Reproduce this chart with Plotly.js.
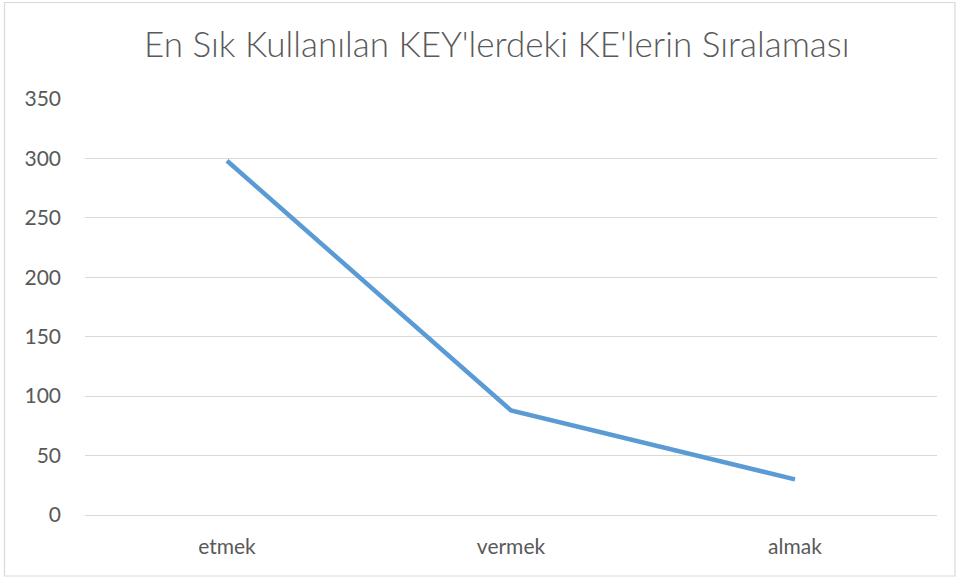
<!DOCTYPE html>
<html>
<head>
<meta charset="utf-8">
<script src="https://cdn.plot.ly/plotly-3.0.1.min.js"></script>
<style>
html,body{margin:0;padding:0;background:#fff;}
#chart{width:959px;height:579px;}
</style>
</head>
<body>
<div id="chart"></div>
<script>
const categories = ["etmek", "vermek", "almak"];
const values = [298, 88, 30];
const yTicks = [0, 50, 100, 150, 200, 250, 300, 350];
const chartTitle = "En Sık Kullanılan KEY'lerdeki KE'lerin Sıralaması";

const trace = {
  x: categories,
  y: values,
  type: 'scatter',
  mode: 'lines',
  line: {color: '#5B9BD5', width: 4.5, shape: 'linear'},
  hoverinfo: 'x+y'
};

const layout = {
  width: 959,
  height: 579,
  margin: {l: 85, r: 22, t: 99, b: 64},
  paper_bgcolor: '#ffffff',
  plot_bgcolor: '#ffffff',
  showlegend: false,
  font: {family: 'Lato, "Open Sans", sans-serif', color: '#595959', size: 21},
  title: {
    text: chartTitle,
    font: {family: 'Lato, "Open Sans", sans-serif', size: 35, color: '#595959', weight: 300},
    x: 0.518, xanchor: 'center',
    y: 0.922, yanchor: 'middle'
  },
  xaxis: {
    type: 'category',
    showgrid: false,
    showline: false,
    zeroline: false,
    ticks: '',
    ticklabelstandoff: 17,
    tickfont: {size: 21, color: '#595959'},
    range: [-0.5, 2.5]
  },
  yaxis: {
    range: [0, 350],
    tickvals: yTicks,
    ticktext: yTicks.map(String),
    showgrid: true,
    gridcolor: '#d9d9d9',
    gridwidth: 1,
    zeroline: true,
    zerolinecolor: '#d9d9d9',
    zerolinewidth: 1,
    showline: false,
    ticks: '',
    ticklabelstandoff: 23,
    tickfont: {size: 21, color: '#595959'}
  },
  shapes: [{
    type: 'rect', xref: 'paper', yref: 'paper',
    x0: -0.0945, x1: 1.0211, y0: -0.1466, y1: 1.232,
    line: {color: '#d9d9d9', width: 1.2},
    fillcolor: 'rgba(0,0,0,0)',
    layer: 'below'
  }]
};

Plotly.newPlot('chart', [trace], layout, {displayModeBar: false, staticPlot: true});
</script>
</body>
</html>
